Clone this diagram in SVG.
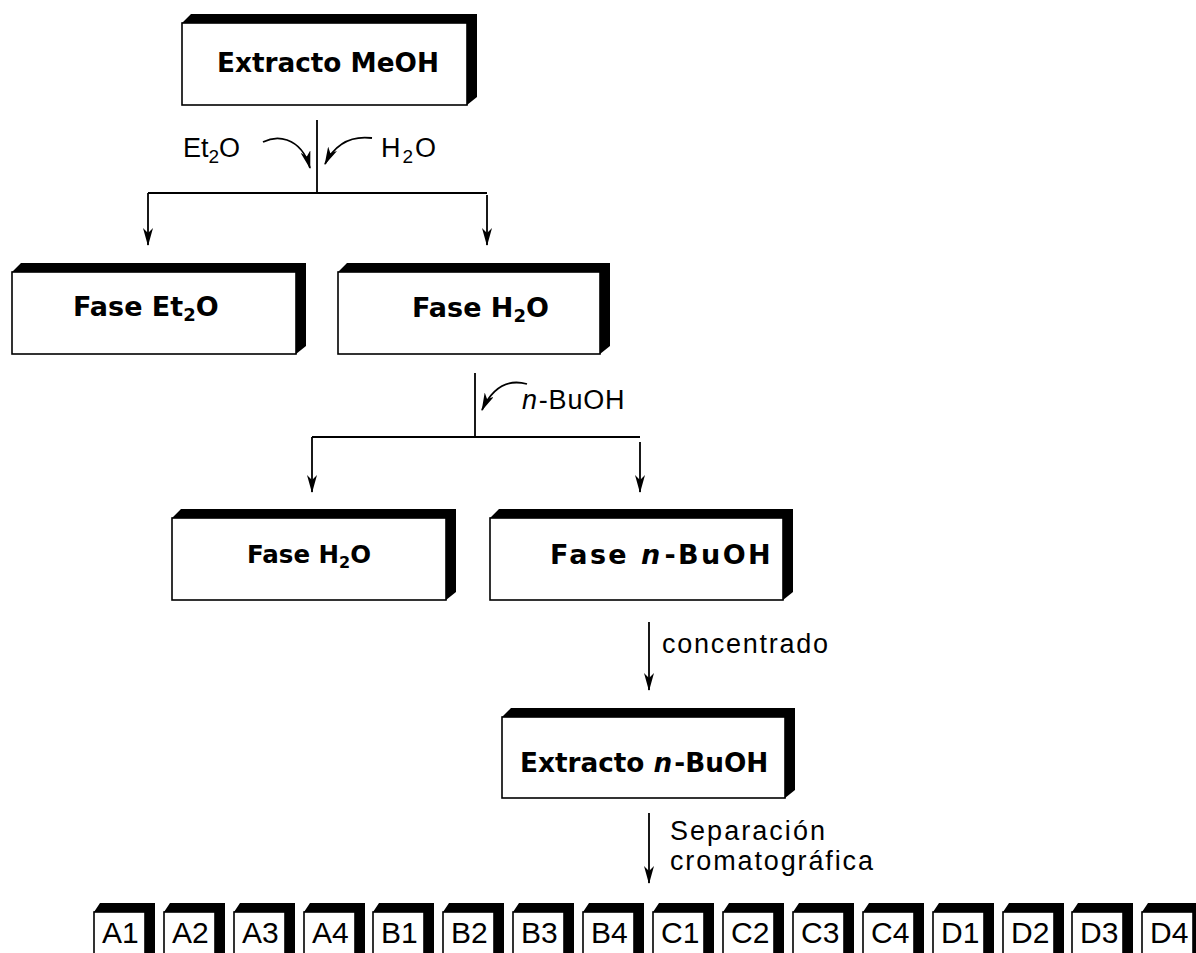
<svg xmlns="http://www.w3.org/2000/svg" width="1196" height="953" viewBox="0 0 1196 953">
<style>
.sh{fill:#000}
.fr{fill:#fff;stroke:#000;stroke-width:1.6}
.t{font-family:"DejaVu Sans",sans-serif;font-weight:bold;font-size:27px;fill:#000}
.l{font-family:"Liberation Sans",Arial,sans-serif;font-size:27px;fill:#000}
.s{font-family:"Liberation Sans",Arial,sans-serif;font-size:30px;fill:#000}
.c{fill:none;stroke:#000;stroke-width:1.8}
</style>
<defs>
<marker id="ah" viewBox="0 0 18 10" refX="17" refY="5" markerWidth="18" markerHeight="10" markerUnits="userSpaceOnUse" orient="auto">
<path d="M0,0 L18,5 L0,10 L5,5 z" fill="#000"/>
</marker>
</defs>
<rect width="1196" height="953" fill="#fff"/>

<g id="connectors">
<line class="c" x1="317" y1="120" x2="317" y2="193"/>
<line class="c" x1="148" y1="193" x2="487" y2="193"/>
<line class="c" x1="148" y1="193" x2="148" y2="245" marker-end="url(#ah)"/>
<line class="c" x1="487" y1="195" x2="487" y2="245" marker-end="url(#ah)"/>
<path class="c" d="M263,142 Q275,136 287,140 Q304,146 310,168" marker-end="url(#ah)"/>
<path class="c" d="M372,138 Q340,134 325,164" marker-end="url(#ah)"/>
<line class="c" x1="475" y1="373" x2="475" y2="437"/>
<line class="c" x1="312" y1="437" x2="640" y2="437"/>
<line class="c" x1="312" y1="437" x2="312" y2="492" marker-end="url(#ah)"/>
<line class="c" x1="640" y1="442" x2="640" y2="492" marker-end="url(#ah)"/>
<path class="c" d="M527,384 Q498,376 482,410" marker-end="url(#ah)"/>
<line class="c" x1="649" y1="622" x2="649" y2="690" marker-end="url(#ah)"/>
<line class="c" x1="649" y1="813" x2="649" y2="883" marker-end="url(#ah)"/>
</g>

<g id="labels">
<text class="l" x="183" y="157">Et<tspan font-size="19" dy="6">2</tspan><tspan dy="-6">O</tspan></text>
<text class="l" x="381" y="157">H<tspan font-size="19" dy="6" dx="2">2</tspan><tspan dy="-6" dx="2">O</tspan></text>
<text class="l" x="522" y="409" letter-spacing="0.8"><tspan font-style="italic">n</tspan><tspan dx="1">-BuOH</tspan></text>
<text class="l" x="662" y="653" textLength="166">concentrado</text>
<text class="l" x="670" y="840" textLength="155">Separación</text>
<text class="l" x="670" y="870" textLength="203">cromatográfica</text>
</g>

<g id="n-extracto-meoh">
<polygon class="sh" points="182,23 191,14 477,14 477,97 467,105 467,23"/>
<rect class="fr" x="182" y="23" width="285" height="82"/>
<text class="t" x="217" y="72" style="font-size:26.3px">Extracto MeOH</text>
</g>
<g id="n-fase-et2o">
<polygon class="sh" points="12,272 21,263 306,263 306,346 296,354 296,272"/>
<rect class="fr" x="12" y="272" width="284" height="82"/>
<text class="t" x="73" y="316">Fase Et<tspan font-size="18" dy="5">2</tspan><tspan dy="-5">O</tspan></text>
</g>
<g id="n-fase-h2o-1">
<polygon class="sh" points="338,272 347,263 610,263 610,346 600,354 600,272"/>
<rect class="fr" x="338" y="272" width="262" height="82"/>
<text class="t" x="412" y="317">Fase H<tspan font-size="18" dy="5">2</tspan><tspan dy="-5">O</tspan></text>
</g>
<g id="n-fase-h2o-2">
<polygon class="sh" points="172,518 181,509 456,509 456,592 446,600 446,518"/>
<rect class="fr" x="172" y="518" width="274" height="82"/>
<text class="t" x="247" y="563" style="font-size:24.5px">Fase H<tspan font-size="16" dy="5">2</tspan><tspan dy="-5">O</tspan></text>
</g>
<g id="n-fase-nbuoh">
<polygon class="sh" points="490,518 499,509 793,509 793,592 783,600 783,518"/>
<rect class="fr" x="490" y="518" width="293" height="82"/>
<text class="t" x="550" y="564" letter-spacing="2.4">Fase <tspan font-style="italic">n</tspan><tspan dx="2">-BuOH</tspan></text>
</g>
<g id="n-extracto-nbuoh">
<polygon class="sh" points="502,717 511,708 795,708 795,790 785,798 785,717"/>
<rect class="fr" x="502" y="717" width="283" height="81"/>
<text class="t" x="520" y="772" style="font-size:26.3px">Extracto <tspan font-style="italic">n</tspan><tspan dx="2">-BuOH</tspan></text>
</g>

<g id="n-A1"><polygon class="sh" points="94,912 100,903 155,903 155,960 145,960 145,912"/><rect class="fr" x="94" y="912" width="51" height="50"/><text class="s" x="102" y="943">A1</text></g>
<g id="n-A2"><polygon class="sh" points="164,912 170,903 225,903 225,960 215,960 215,912"/><rect class="fr" x="164" y="912" width="51" height="50"/><text class="s" x="172" y="943">A2</text></g>
<g id="n-A3"><polygon class="sh" points="234,912 240,903 295,903 295,960 285,960 285,912"/><rect class="fr" x="234" y="912" width="51" height="50"/><text class="s" x="242" y="943">A3</text></g>
<g id="n-A4"><polygon class="sh" points="304,912 310,903 365,903 365,960 355,960 355,912"/><rect class="fr" x="304" y="912" width="51" height="50"/><text class="s" x="312" y="943">A4</text></g>
<g id="n-B1"><polygon class="sh" points="373,912 379,903 434,903 434,960 424,960 424,912"/><rect class="fr" x="373" y="912" width="51" height="50"/><text class="s" x="381" y="943">B1</text></g>
<g id="n-B2"><polygon class="sh" points="443,912 449,903 504,903 504,960 494,960 494,912"/><rect class="fr" x="443" y="912" width="51" height="50"/><text class="s" x="451" y="943">B2</text></g>
<g id="n-B3"><polygon class="sh" points="513,912 519,903 574,903 574,960 564,960 564,912"/><rect class="fr" x="513" y="912" width="51" height="50"/><text class="s" x="521" y="943">B3</text></g>
<g id="n-B4"><polygon class="sh" points="583,912 589,903 644,903 644,960 634,960 634,912"/><rect class="fr" x="583" y="912" width="51" height="50"/><text class="s" x="591" y="943">B4</text></g>
<g id="n-C1"><polygon class="sh" points="653,912 659,903 714,903 714,960 704,960 704,912"/><rect class="fr" x="653" y="912" width="51" height="50"/><text class="s" x="661" y="943">C1</text></g>
<g id="n-C2"><polygon class="sh" points="723,912 729,903 784,903 784,960 774,960 774,912"/><rect class="fr" x="723" y="912" width="51" height="50"/><text class="s" x="731" y="943">C2</text></g>
<g id="n-C3"><polygon class="sh" points="793,912 799,903 854,903 854,960 844,960 844,912"/><rect class="fr" x="793" y="912" width="51" height="50"/><text class="s" x="801" y="943">C3</text></g>
<g id="n-C4"><polygon class="sh" points="863,912 869,903 924,903 924,960 914,960 914,912"/><rect class="fr" x="863" y="912" width="51" height="50"/><text class="s" x="871" y="943">C4</text></g>
<g id="n-D1"><polygon class="sh" points="933,912 939,903 994,903 994,960 984,960 984,912"/><rect class="fr" x="933" y="912" width="51" height="50"/><text class="s" x="941" y="943">D1</text></g>
<g id="n-D2"><polygon class="sh" points="1003,912 1009,903 1064,903 1064,960 1054,960 1054,912"/><rect class="fr" x="1003" y="912" width="51" height="50"/><text class="s" x="1011" y="943">D2</text></g>
<g id="n-D3"><polygon class="sh" points="1072,912 1078,903 1133,903 1133,960 1123,960 1123,912"/><rect class="fr" x="1072" y="912" width="51" height="50"/><text class="s" x="1080" y="943">D3</text></g>
<g id="n-D4"><polygon class="sh" points="1142,912 1148,903 1203,903 1203,960 1193,960 1193,912"/><rect class="fr" x="1142" y="912" width="51" height="50"/><text class="s" x="1150" y="943">D4</text></g>
</svg>
